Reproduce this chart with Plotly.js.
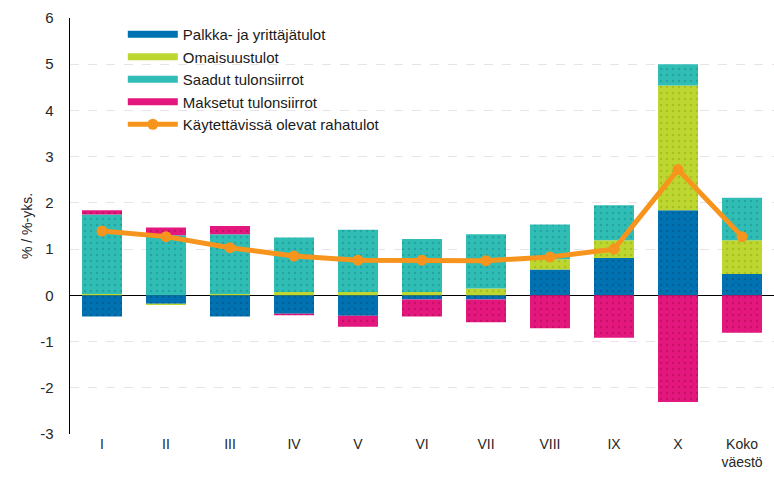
<!DOCTYPE html>
<html>
<head>
<meta charset="utf-8">
<script src="https://cdn.plot.ly/plotly-3.0.1.min.js"></script>
<style>html,body{margin:0;padding:0;background:#fff;}#chart{width:774px;height:485px;}</style>
</head>
<body>
<div id="chart"></div>
<script>
const categories = ['I','II','III','IV','V','VI','VII','VIII','IX','X','Koko<br>väestö'];
const palkka   = [-0.46, -0.18, -0.46, -0.40, -0.44, -0.09, -0.09, 0.56, 0.81, 1.84, 0.46];
const omaisuus = [ 0.03, -0.03,  0.03,  0.07,  0.07,  0.07,  0.15, 0.22, 0.38, 2.70, 0.73];
const saadut   = [ 1.72,  1.30,  1.29,  1.18,  1.35,  1.15,  1.17, 0.75, 0.76, 0.46, 0.92];
const maksetut = [ 0.09,  0.17,  0.18, -0.03, -0.24, -0.37, -0.49, -0.71, -0.92, -2.31, -0.81];
const kaytettavissa = [1.39, 1.27, 1.03, 0.85, 0.76, 0.76, 0.75, 0.83, 1.00, 2.72, 1.27];
const seriesNames = ['Palkka- ja yrittäjätulot','Omaisuustulot','Saadut tulonsiirrot','Maksetut tulonsiirrot','Käytettävissä olevat rahatulot'];
const yTickVals = [-3,-2,-1,0,1,2,3,4,5,6];
const yTickText = ['-3','-2','-1','0','1','2','3','4','5','6'];

const colors = ['#0072b2','#bdd630','#2fbdb6','#e3177d','#f7941d'];
const dotColors = ['#005f96','#a9c020','#22a69f','#c80f68'];
function bar(i, y){
  return {type:'bar', name:seriesNames[i], x:categories, y:y, showlegend:false, legendgroup:'g'+i,
    marker:{color:colors[i], line:{width:0},
      pattern:{shape:'.', fillmode:'replace', bgcolor:colors[i], fgcolor:dotColors[i], size:6, solidity:0.12}},
    hoverinfo:'y+name'};
}
function legendKey(i){
  return {type:'scatter', mode:'lines', name:seriesNames[i], x:[null], y:[null], legendgroup:'g'+i,
    line:{color:colors[i], width:7}, hoverinfo:'skip'};
}
const traces = [
  bar(0, palkka),
  bar(1, omaisuus),
  bar(2, saadut),
  bar(3, maksetut),
  legendKey(0), legendKey(1), legendKey(2), legendKey(3),
  {type:'scatter', mode:'lines+markers', name:seriesNames[4], x:categories, y:kaytettavissa,
   line:{color:colors[4], width:5}, marker:{color:colors[4], size:11}}
];
const font = {family:'"Liberation Sans", Arial, sans-serif', size:14, color:'#262626'};
const layout = {
  width:774, height:485,
  margin:{l:70, r:0, t:18, b:51, pad:0},
  barmode:'relative', bargap:0.375,
  font:font,
  paper_bgcolor:'#fff', plot_bgcolor:'#fff',
  showlegend:true,
  legend:{x:0.075, y:1.0, xanchor:'left', yanchor:'top', traceorder:'normal',
    bgcolor:'rgba(0,0,0,0)', font:{family:font.family, size:15, color:'#1a1a1a'},
    itemwidth:50, tracegroupgap:0},
  xaxis:{type:'category', range:[-0.5,10.5], showline:false, showgrid:false, zeroline:false,
    ticks:'', tickfont:{size:14, color:'#262626'}, fixedrange:true},
  yaxis:{range:[-3,6], tickmode:'array', tickvals:yTickVals, ticktext:yTickText,
    showgrid:true, gridcolor:'#ebe1eb', griddash:'dash', gridwidth:1,
    zeroline:true, zerolinecolor:'#000', zerolinewidth:1.5,
    showline:true, linecolor:'#000', linewidth:1.5,
    ticks:'', ticklabelstandoff:12, tickfont:{size:15, color:'#262626'},
    title:{text:'% / %-yks.', font:{size:14, color:'#262626'}, standoff:4}, fixedrange:true}
};
Plotly.newPlot('chart', traces, layout, {displayModeBar:false, staticPlot:true});
</script>
</body>
</html>
